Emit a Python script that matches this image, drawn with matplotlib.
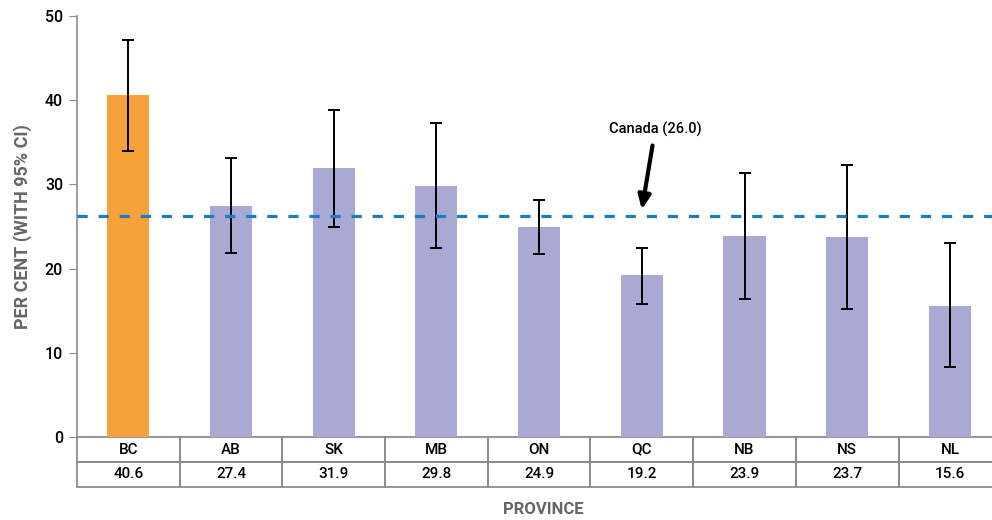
import matplotlib
matplotlib.use("Agg")
import matplotlib.pyplot as plt
from matplotlib.patches import Rectangle
import numpy as np

plt.rcParams['font.family'] = ['Roboto', 'DejaVu Sans']

provinces = ["BC", "AB", "SK", "MB", "ON", "QC", "NB", "NS", "NL"]
values = [40.6, 27.4, 31.9, 29.8, 24.9, 19.2, 23.9, 23.7, 15.6]
ci_low = [34.0, 21.9, 25.0, 22.4, 21.7, 15.8, 16.4, 15.2, 8.3]
ci_high = [47.2, 33.1, 38.8, 37.3, 28.1, 22.4, 31.4, 32.3, 23.0]
canada_line = 26.2
canada_label = "Canada (26.0)"

orange = "#F7A13B"
purple = "#AAA9D4"
grey_line = "#8C8C8C"

fig = plt.figure(figsize=(9.92, 5.2), dpi=100)
ax = fig.add_axes([77 / 992, 1 - 437 / 520, 1 - 77 / 992, (437 - 16) / 520])

x = np.arange(len(provinces))
colors = [orange if p == "BC" else purple for p in provinces]
vals = np.array(values)
yerr = np.array([vals - np.array(ci_low), np.array(ci_high) - vals])
ax.bar(x, vals, width=0.41, color=colors, zorder=2)
ax.errorbar(x, vals, yerr=yerr, fmt="none", ecolor="black", elinewidth=1.4,
            capsize=4, capthick=1.4, zorder=3)

ax.axhline(canada_line, color="#1A7DC4", lw=2.3, dashes=(3.2, 3.4), zorder=4)
ax.annotate(canada_label, xy=(5.0, canada_line + 0.8), xytext=(5.13, 35.6),
            ha="center", va="bottom", fontsize=10.5, fontweight="medium", color="black",
            arrowprops=dict(arrowstyle="-|>,head_length=0.8,head_width=0.35",
                            color="black", lw=3, shrinkA=4, shrinkB=0))

ax.set_xlim(-0.5, 8.41)
ax.set_ylim(0, 50)
ax.set_yticks([0, 10, 20, 30, 40, 50])
ax.tick_params(axis="y", length=6, color=grey_line, labelsize=11.5, pad=4)
for lab in ax.get_yticklabels():
    lab.set_fontweight("medium")
ax.set_xticks([])
for s in ["top", "right", "bottom"]:
    ax.spines[s].set_visible(False)
ax.spines["left"].set_color(grey_line)
ax.spines["left"].set_linewidth(1.2)

# table under the bars
row_h = 25 / 421 * 50
for i, p in enumerate(provinces):
    for r, txt in enumerate([p, "%.1f" % values[i]]):
        y0 = -row_h * (r + 1)
        ax.add_patch(Rectangle((i - 0.5, y0), 1, row_h, fill=False,
                               edgecolor=grey_line, lw=1.3, clip_on=False))
        ax.text(i, y0 + row_h / 2, txt, ha="center", va="center",
                fontsize=11, fontweight="medium", clip_on=False)

ax.set_ylabel("PER CENT (WITH 95% CI)", fontsize=13, fontweight="bold",
              color="#666666", labelpad=9)
fig.text(543 / 992, 1 - 510 / 520, "PROVINCE", ha="center", va="center",
         fontsize=12, fontweight="bold", color="#666666")

fig.savefig("out.png", dpi=100)
